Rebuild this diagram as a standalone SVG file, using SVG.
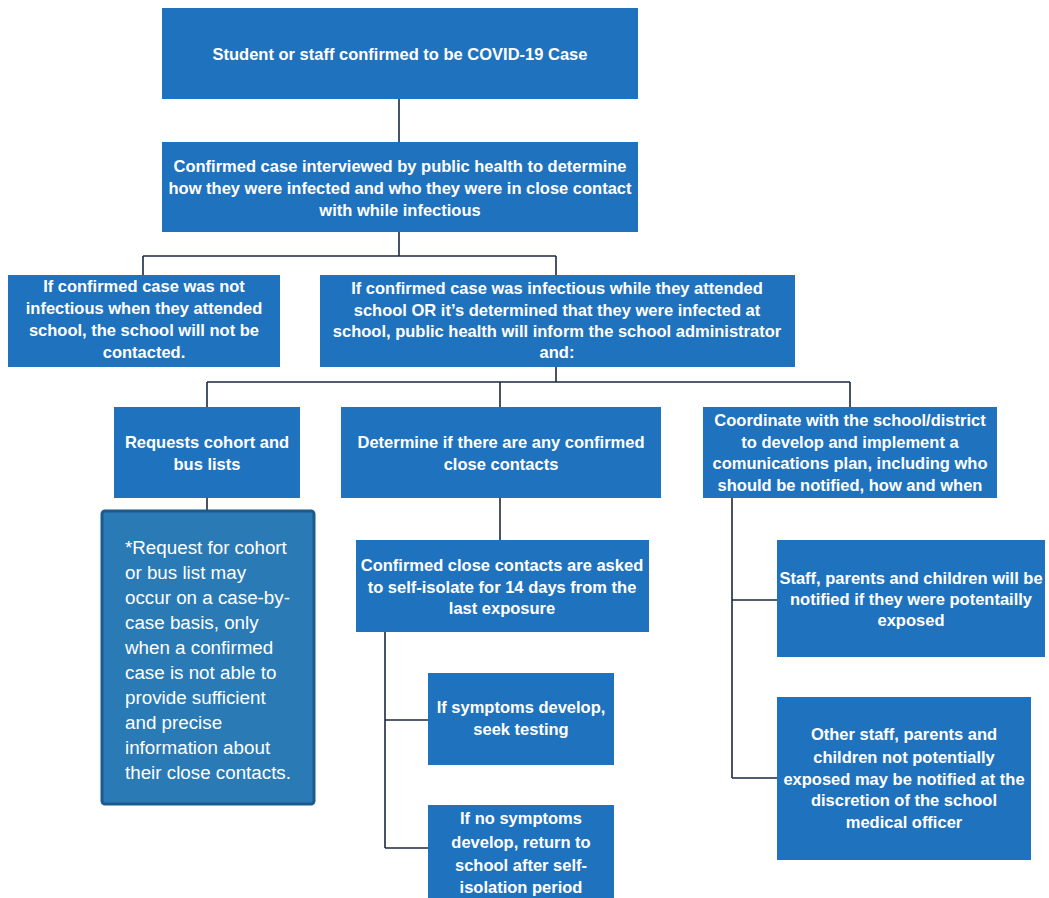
<svg xmlns="http://www.w3.org/2000/svg" width="1049" height="898" viewBox="0 0 1049 898">
<style>
.box{fill:#1f72bd;}
.note{fill:#2a7ab6;stroke:#1b5a8c;stroke-width:3;}
.t{font-family:"Liberation Sans",Arial,sans-serif;font-size:16.5px;font-weight:bold;fill:#ffffff;text-anchor:middle;}
.n{font-family:"Liberation Sans",Arial,sans-serif;font-size:18.8px;fill:#ffffff;}
.c{fill:none;stroke:#1a2a40;stroke-width:1.6;}
</style>
<rect width="1049" height="898" fill="#ffffff"/>
<g id="connectors">
<path class="c" d="M399,99 V142"/>
<path class="c" d="M399,232 V256 M143,256 H556 M143,256 V275 M556,256 V275"/>
<path class="c" d="M556,367 V382 M207,382 H850 M207,382 V407 M500,382 V407 M850,382 V407"/>
<path class="c" d="M207,498 V510"/>
<path class="c" d="M500,498 V540"/>
<path class="c" d="M385,632 V848 M385,720 H428 M385,848 H428"/>
<path class="c" d="M732,498 V778 M732,600 H777 M732,778 H777"/>
</g>
<g id="n1"><rect class="box" x="162" y="8" width="476" height="91"/>
<text class="t" x="400" y="60">Student or staff confirmed to be COVID-19 Case</text></g>
<g id="n2"><rect class="box" x="162" y="142" width="476" height="90"/>
<text class="t" x="400" y="172">Confirmed case interviewed by public health to determine</text>
<text class="t" x="400" y="194">how they were infected and who they were in close contact</text>
<text class="t" x="400" y="216">with while infectious</text></g>
<g id="n3"><rect class="box" x="8" y="275" width="272" height="92"/>
<text class="t" x="144" y="292">If confirmed case was not</text>
<text class="t" x="144" y="314">infectious when they attended</text>
<text class="t" x="144" y="336">school, the school will not be</text>
<text class="t" x="144" y="358">contacted.</text></g>
<g id="n4"><rect class="box" x="320" y="275" width="475" height="92"/>
<text class="t" x="557" y="294">If confirmed case was infectious while they attended</text>
<text class="t" x="557" y="316">school OR it’s determined that they were infected at</text>
<text class="t" x="557" y="337">school, public health will inform the school administrator</text>
<text class="t" x="557" y="358">and:</text></g>
<g id="n5"><rect class="box" x="114" y="407" width="186" height="91"/>
<text class="t" x="207" y="448">Requests cohort and</text>
<text class="t" x="207" y="470">bus lists</text></g>
<g id="n6"><rect class="note" x="102" y="511" width="212" height="293" rx="3"/>
<text class="n" x="125" y="554">*Request for cohort</text>
<text class="n" x="125" y="579">or bus list may</text>
<text class="n" x="125" y="604">occur on a case-by-</text>
<text class="n" x="125" y="629">case basis, only</text>
<text class="n" x="125" y="654">when a confirmed</text>
<text class="n" x="125" y="679">case is not able to</text>
<text class="n" x="125" y="704">provide sufficient</text>
<text class="n" x="125" y="729">and precise</text>
<text class="n" x="125" y="754">information about</text>
<text class="n" x="125" y="779">their close contacts.</text></g>
<g id="n7"><rect class="box" x="341" y="407" width="320" height="91"/>
<text class="t" x="501" y="448">Determine if there are any confirmed</text>
<text class="t" x="501" y="470">close contacts</text></g>
<g id="n8"><rect class="box" x="356" y="540" width="293" height="92"/>
<text class="t" x="502" y="571">Confirmed close contacts are asked</text>
<text class="t" x="502" y="593">to self-isolate for 14 days from the</text>
<text class="t" x="502" y="614">last exposure</text></g>
<g id="n9"><rect class="box" x="428" y="673" width="186" height="92"/>
<text class="t" x="521" y="713">If symptoms develop,</text>
<text class="t" x="521" y="735">seek testing</text></g>
<g id="n10"><rect class="box" x="428" y="805" width="186" height="93"/>
<text class="t" x="521" y="824">If no symptoms</text>
<text class="t" x="521" y="848">develop, return to</text>
<text class="t" x="521" y="871">school after self-</text>
<text class="t" x="521" y="893">isolation period</text></g>
<g id="n11"><rect class="box" x="703" y="407" width="294" height="91"/>
<text class="t" x="850" y="426">Coordinate with the school/district</text>
<text class="t" x="850" y="448">to develop and implement a</text>
<text class="t" x="850" y="469">comunications plan, including who</text>
<text class="t" x="850" y="491">should be notified, how and when</text></g>
<g id="n12"><rect class="box" x="777" y="540" width="268" height="117"/>
<text class="t" x="911" y="584">Staff, parents and children will be</text>
<text class="t" x="911" y="605">notified if they were potentailly</text>
<text class="t" x="911" y="626">exposed</text></g>
<g id="n13"><rect class="box" x="777" y="697" width="254" height="163"/>
<text class="t" x="904" y="740">Other staff, parents and</text>
<text class="t" x="904" y="763">children not potentially</text>
<text class="t" x="904" y="785">exposed may be notified at the</text>
<text class="t" x="904" y="806">discretion of the school</text>
<text class="t" x="904" y="828">medical officer</text></g>
</svg>
